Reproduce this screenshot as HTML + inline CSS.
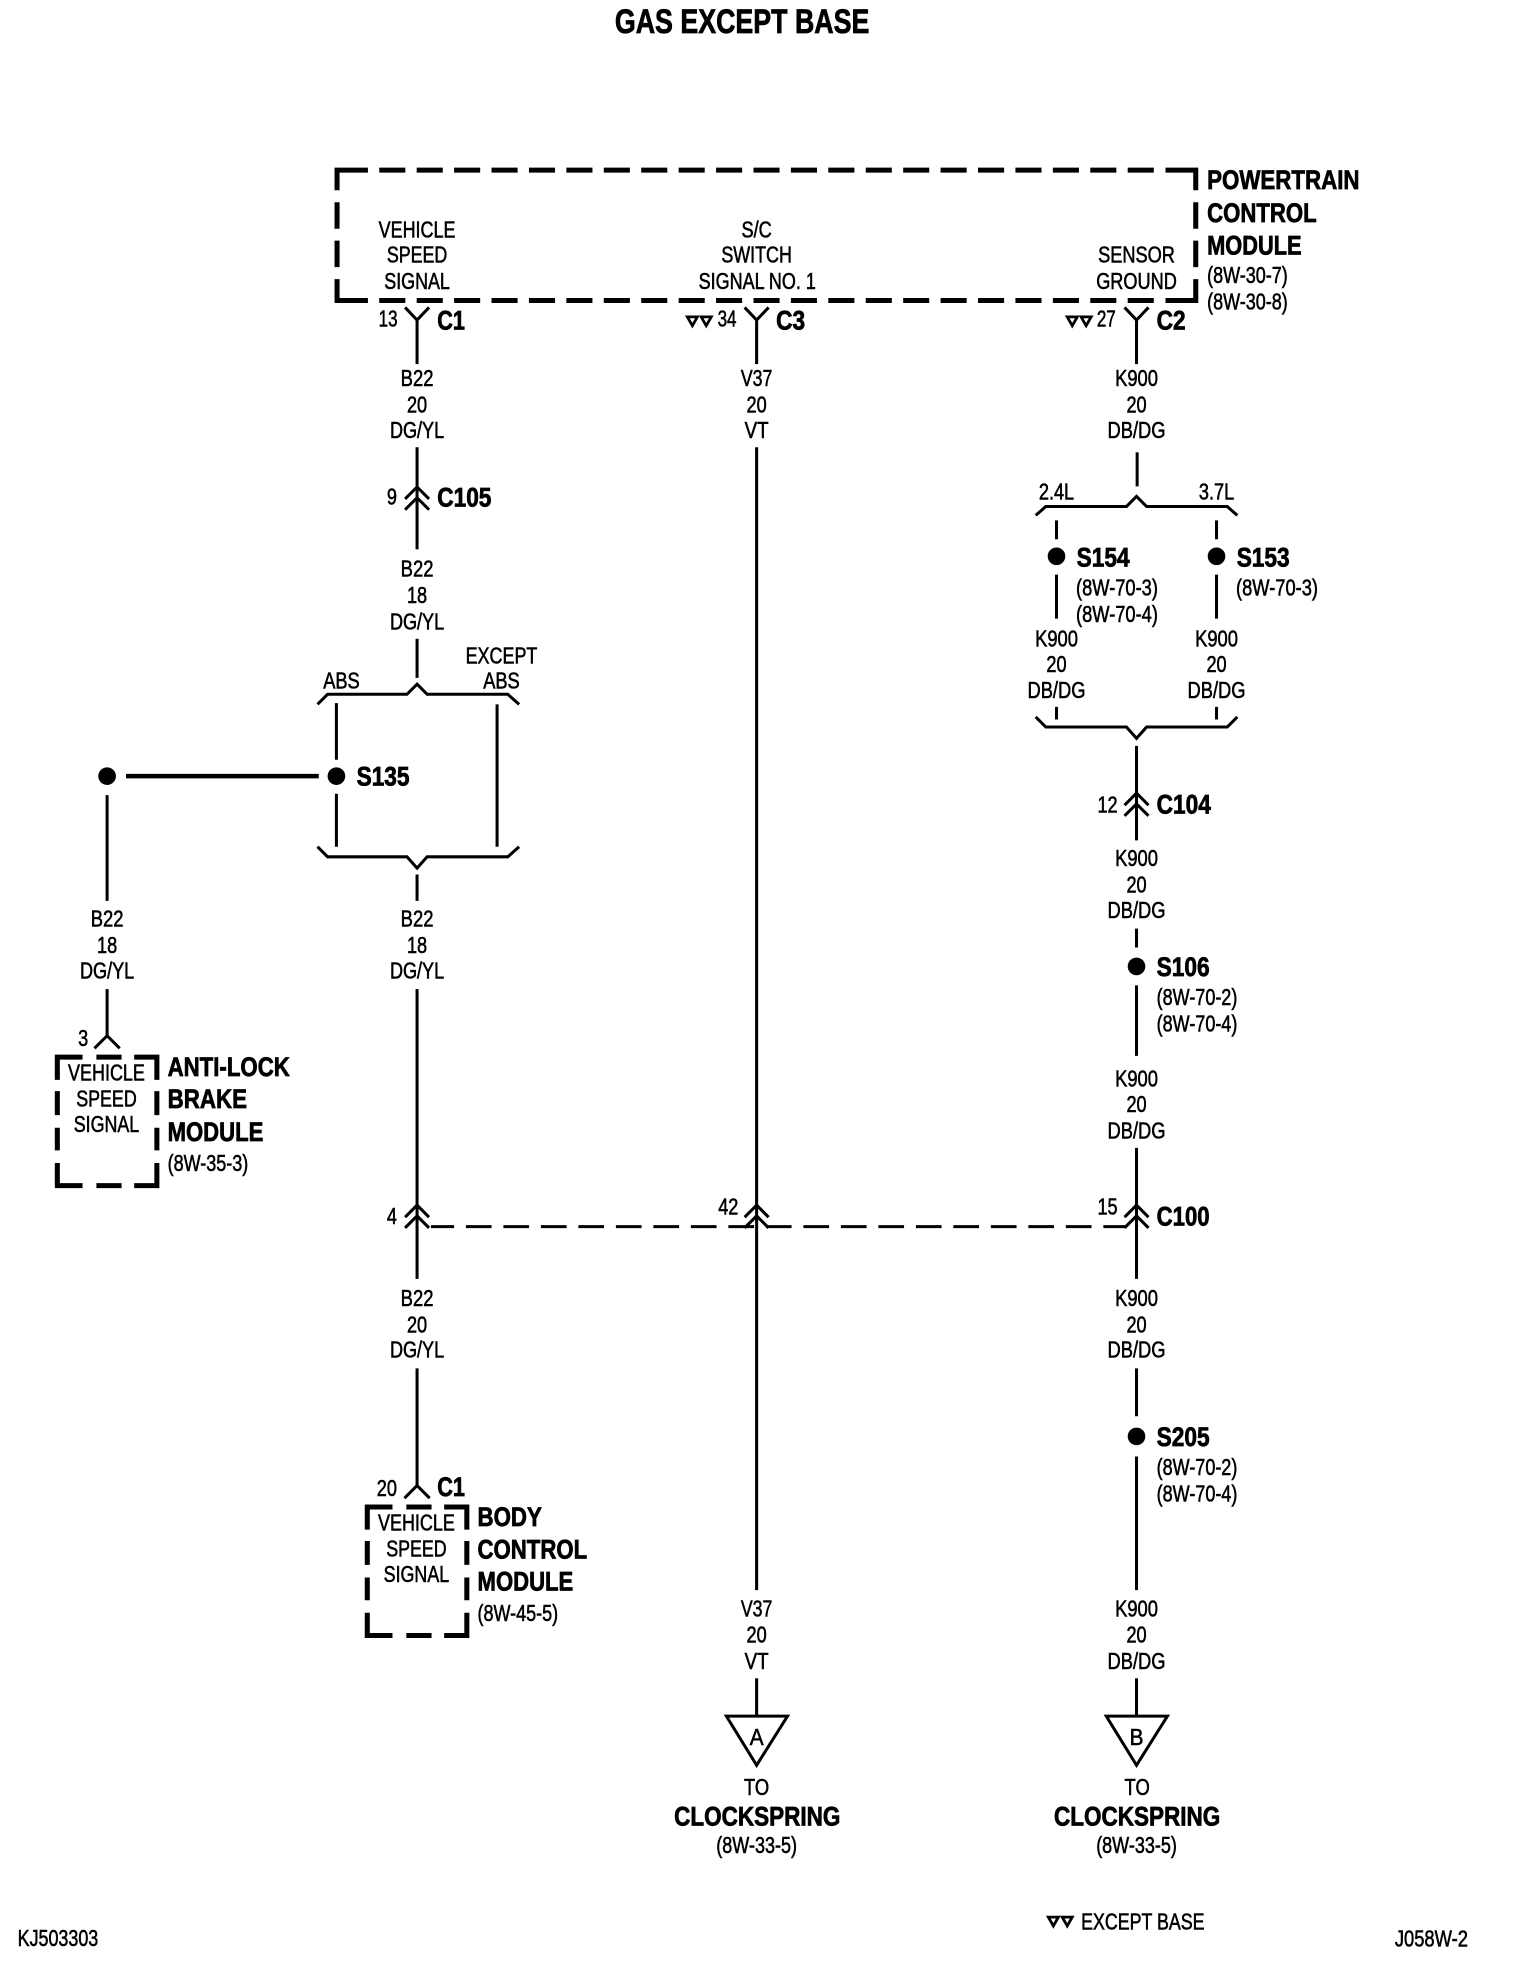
<!DOCTYPE html>
<html>
<head>
<meta charset="utf-8">
<style>
html,body{margin:0;padding:0;background:#fff;}
svg{display:block;}
text{font-family:"Liberation Sans",Arial,sans-serif;fill:#000;text-anchor:middle;font-size:18px;stroke:#000;stroke-width:.45px;}
.b{font-weight:bold;font-size:21.5px;stroke-width:.6px;}
.l{text-anchor:start;}
.w{fill:none;stroke:#000;stroke-width:2.4;}
.d{fill:none;stroke:#000;stroke-width:4;}
</style>
</head>
<body>
<svg xmlns="http://www.w3.org/2000/svg" width="1520" height="1976" viewBox="0 0 1206.35 1568.25">
<rect width="1206.35" height="1568.25" fill="#fff"/>
<defs>
<path id="chev" class="w" d="M-9.500 10L0 0.500L9.500 10M-9.500 18.500L0 9L9.500 18.500"/>
<path id="tri" fill="none" stroke="#000" stroke-width="2.2" d="M-4 -3.500H4L0 3.500Z"/>
<path id="modbox" class="d" d="M1 19V1H21M32 1H52M62 1H80V19M1 28V47M1 57V75M1 85V103H21M32 103H52M62 103H80V85M80 75V57M80 47V28"/>
</defs>

<text class="b" x="589" y="26" style="font-size:27px" textLength="202" lengthAdjust="spacingAndGlyphs">GAS EXCEPT BASE</text>

<!-- PCM box -->
<path class="d" d="M292 135H267.500V151M267.500 160.500V181.500M267.500 191V212M267.500 221.500V238.500H292"/>
<path class="d" d="M925 135H949V151M949 160.500V181.500M949 191V212M949 221.500V238.500H925"/>
<line class="d" x1="301" y1="135" x2="916" y2="135" stroke-dasharray="20.7 9"/>
<line class="d" x1="301" y1="238.500" x2="916" y2="238.500" stroke-dasharray="20.7 9"/>

<text x="331" y="188.500" textLength="61" lengthAdjust="spacingAndGlyphs">VEHICLE</text>
<text x="331" y="208.500" textLength="48" lengthAdjust="spacingAndGlyphs">SPEED</text>
<text x="331" y="229.500" textLength="52" lengthAdjust="spacingAndGlyphs">SIGNAL</text>
<text x="600.500" y="188.500" textLength="24" lengthAdjust="spacingAndGlyphs">S/C</text>
<text x="600.500" y="208.500" textLength="56" lengthAdjust="spacingAndGlyphs">SWITCH</text>
<text x="601" y="229.500" textLength="93" lengthAdjust="spacingAndGlyphs">SIGNAL NO. 1</text>
<text x="902" y="208.500" textLength="61" lengthAdjust="spacingAndGlyphs">SENSOR</text>
<text x="902" y="229.500" textLength="64" lengthAdjust="spacingAndGlyphs">GROUND</text>

<text class="b l" x="958" y="150" textLength="121" lengthAdjust="spacingAndGlyphs">POWERTRAIN</text>
<text class="b l" x="958" y="176" textLength="87" lengthAdjust="spacingAndGlyphs">CONTROL</text>
<text class="b l" x="958" y="202" textLength="75" lengthAdjust="spacingAndGlyphs">MODULE</text>
<text class="l" x="958" y="224.500" textLength="64" lengthAdjust="spacingAndGlyphs">(8W-30-7)</text>
<text class="l" x="958" y="245.500" textLength="64" lengthAdjust="spacingAndGlyphs">(8W-30-8)</text>

<!-- Y connectors at PCM -->
<path class="w" d="M321.500 244L331 254L340.500 244M331 254V289"/>
<path class="w" d="M591 244L600.500 254L610 244M600.500 254V289"/>
<path class="w" d="M892.500 244L902 254L911.500 244M902 254V289"/>
<text x="308" y="259" textLength="15" lengthAdjust="spacingAndGlyphs">13</text>
<text x="577" y="259" textLength="15" lengthAdjust="spacingAndGlyphs">34</text>
<text x="878" y="259" textLength="15" lengthAdjust="spacingAndGlyphs">27</text>
<use href="#tri" x="549.500" y="255"/><use href="#tri" x="560.500" y="255"/>
<use href="#tri" x="851" y="255"/><use href="#tri" x="862" y="255"/>
<text class="b l" x="347" y="261.500" textLength="22" lengthAdjust="spacingAndGlyphs">C1</text>
<text class="b l" x="616" y="261.500" textLength="23" lengthAdjust="spacingAndGlyphs">C3</text>
<text class="b l" x="918" y="261.500" textLength="23" lengthAdjust="spacingAndGlyphs">C2</text>

<!-- wire labels col 1 -->
<text x="331" y="306.500" textLength="26" lengthAdjust="spacingAndGlyphs">B22</text>
<text x="331" y="327.500" textLength="16" lengthAdjust="spacingAndGlyphs">20</text>
<text x="331" y="347.500" textLength="43" lengthAdjust="spacingAndGlyphs">DG/YL</text>
<path class="w" d="M331 355V436"/>
<use href="#chev" x="331" y="386"/>
<text x="311" y="400.500" textLength="8" lengthAdjust="spacingAndGlyphs">9</text>
<text class="b l" x="347" y="402" textLength="43" lengthAdjust="spacingAndGlyphs">C105</text>
<text x="331" y="457.500" textLength="26" lengthAdjust="spacingAndGlyphs">B22</text>
<text x="331" y="478.500" textLength="16" lengthAdjust="spacingAndGlyphs">18</text>
<text x="331" y="499.500" textLength="43" lengthAdjust="spacingAndGlyphs">DG/YL</text>
<path class="w" d="M331 507V538"/>

<!-- S135 brace -->
<path class="w" d="M252 559L260 551H323L331 543L339 551H403L412 559"/>
<text x="271" y="546.500" textLength="29" lengthAdjust="spacingAndGlyphs">ABS</text>
<text x="398" y="526.500" textLength="57" lengthAdjust="spacingAndGlyphs">EXCEPT</text>
<text x="398" y="546.500" textLength="29" lengthAdjust="spacingAndGlyphs">ABS</text>
<path class="w" d="M267 558V603M267 630V672M394.500 559V672"/>
<circle cx="267" cy="616" r="7"/>
<circle cx="85" cy="616" r="7"/>
<path d="M100 616H253" fill="none" stroke="#000" stroke-width="3.6"/>
<text class="b l" x="283" y="623.500" textLength="42" lengthAdjust="spacingAndGlyphs">S135</text>
<path class="w" d="M252 672L260 680H323L331 689L339 680H403L412 672"/>
<path class="w" d="M331 694V715M85 631V715"/>
<text x="85" y="735.500" textLength="26" lengthAdjust="spacingAndGlyphs">B22</text>
<text x="85" y="756.500" textLength="16" lengthAdjust="spacingAndGlyphs">18</text>
<text x="85" y="776.500" textLength="43" lengthAdjust="spacingAndGlyphs">DG/YL</text>
<text x="331" y="735.500" textLength="26" lengthAdjust="spacingAndGlyphs">B22</text>
<text x="331" y="756.500" textLength="16" lengthAdjust="spacingAndGlyphs">18</text>
<text x="331" y="776.500" textLength="43" lengthAdjust="spacingAndGlyphs">DG/YL</text>

<!-- ABS module -->
<path class="w" d="M85 785V822M75 832L85 822L95 832"/>
<text x="66" y="830" textLength="8" lengthAdjust="spacingAndGlyphs">3</text>
<use href="#modbox" x="44.500" y="838"/>
<text x="84.500" y="857.500" textLength="61" lengthAdjust="spacingAndGlyphs">VEHICLE</text>
<text x="84.500" y="878" textLength="48" lengthAdjust="spacingAndGlyphs">SPEED</text>
<text x="84.500" y="898.500" textLength="52" lengthAdjust="spacingAndGlyphs">SIGNAL</text>
<text class="b l" x="133" y="854" textLength="97" lengthAdjust="spacingAndGlyphs">ANTI-LOCK</text>
<text class="b l" x="133" y="879.500" textLength="63" lengthAdjust="spacingAndGlyphs">BRAKE</text>
<text class="b l" x="133" y="905.500" textLength="76" lengthAdjust="spacingAndGlyphs">MODULE</text>
<text class="l" x="133" y="929.500" textLength="64" lengthAdjust="spacingAndGlyphs">(8W-35-3)</text>

<!-- col 1 lower -->
<path class="w" d="M331 785V1015"/>
<use href="#chev" x="331" y="956"/>
<text x="311" y="971.500" textLength="8" lengthAdjust="spacingAndGlyphs">4</text>
<line class="w" x1="342" y1="973.500" x2="893" y2="973.500" stroke-dasharray="20.4 9.360" stroke-dashoffset="2"/>
<text x="331" y="1036.500" textLength="26" lengthAdjust="spacingAndGlyphs">B22</text>
<text x="331" y="1057.500" textLength="16" lengthAdjust="spacingAndGlyphs">20</text>
<text x="331" y="1077.500" textLength="43" lengthAdjust="spacingAndGlyphs">DG/YL</text>
<path class="w" d="M331 1086V1179M321 1189L331 1179L341 1189"/>
<text x="307" y="1187.500" textLength="16" lengthAdjust="spacingAndGlyphs">20</text>
<text class="b l" x="347" y="1187.500" textLength="22" lengthAdjust="spacingAndGlyphs">C1</text>
<use href="#modbox" x="290.500" y="1195"/>
<text x="330.500" y="1214.500" textLength="61" lengthAdjust="spacingAndGlyphs">VEHICLE</text>
<text x="330.500" y="1235.500" textLength="48" lengthAdjust="spacingAndGlyphs">SPEED</text>
<text x="330.500" y="1255.500" textLength="52" lengthAdjust="spacingAndGlyphs">SIGNAL</text>
<text class="b l" x="379" y="1211" textLength="51" lengthAdjust="spacingAndGlyphs">BODY</text>
<text class="b l" x="379" y="1237" textLength="87" lengthAdjust="spacingAndGlyphs">CONTROL</text>
<text class="b l" x="379" y="1262.500" textLength="76" lengthAdjust="spacingAndGlyphs">MODULE</text>
<text class="l" x="379" y="1286.500" textLength="64" lengthAdjust="spacingAndGlyphs">(8W-45-5)</text>

<!-- col 2 -->
<text x="600.500" y="306.500" textLength="25" lengthAdjust="spacingAndGlyphs">V37</text>
<text x="600.500" y="327.500" textLength="16" lengthAdjust="spacingAndGlyphs">20</text>
<text x="600.500" y="347.500" textLength="19" lengthAdjust="spacingAndGlyphs">VT</text>
<path class="w" d="M600.500 355V1262"/>
<use href="#chev" x="600.500" y="956"/>
<text x="578" y="964" textLength="16" lengthAdjust="spacingAndGlyphs">42</text>
<text x="600.500" y="1283" textLength="25" lengthAdjust="spacingAndGlyphs">V37</text>
<text x="600.500" y="1303.500" textLength="16" lengthAdjust="spacingAndGlyphs">20</text>
<text x="600.500" y="1324.500" textLength="19" lengthAdjust="spacingAndGlyphs">VT</text>
<path class="w" d="M600.500 1332V1362"/>
<path class="w" d="M576.500 1362H625L600.500 1401Z"/>
<text x="600.500" y="1385" textLength="11" lengthAdjust="spacingAndGlyphs">A</text>
<text x="600.500" y="1424.500" textLength="20" lengthAdjust="spacingAndGlyphs">TO</text>
<text class="b" x="601" y="1449" textLength="132" lengthAdjust="spacingAndGlyphs">CLOCKSPRING</text>
<text x="600.500" y="1470.500" textLength="64" lengthAdjust="spacingAndGlyphs">(8W-33-5)</text>

<!-- col 3 -->
<text x="902" y="306.500" textLength="34" lengthAdjust="spacingAndGlyphs">K900</text>
<text x="902" y="327.500" textLength="16" lengthAdjust="spacingAndGlyphs">20</text>
<text x="902" y="347.500" textLength="46" lengthAdjust="spacingAndGlyphs">DB/DG</text>
<path class="w" d="M902.500 359V386"/>
<path class="w" d="M822 409L830 402H894L902 394L910 402H974L982 409"/>
<text x="838.500" y="396.500" textLength="28" lengthAdjust="spacingAndGlyphs">2.4L</text>
<text x="965.500" y="396.500" textLength="28" lengthAdjust="spacingAndGlyphs">3.7L</text>
<path class="w" d="M838.500 413V428M838.500 456V491M965.500 413V428M965.500 456V491"/>
<circle cx="838.500" cy="441.500" r="7"/>
<circle cx="965.500" cy="441.500" r="7"/>
<text class="b l" x="854.500" y="449.500" textLength="42" lengthAdjust="spacingAndGlyphs">S154</text>
<text class="b l" x="981.500" y="449.500" textLength="42" lengthAdjust="spacingAndGlyphs">S153</text>
<text class="l" x="854" y="472.500" textLength="65" lengthAdjust="spacingAndGlyphs">(8W-70-3)</text>
<text class="l" x="854" y="493.500" textLength="65" lengthAdjust="spacingAndGlyphs">(8W-70-4)</text>
<text class="l" x="981" y="472.500" textLength="65" lengthAdjust="spacingAndGlyphs">(8W-70-3)</text>
<text x="838.500" y="513" textLength="34" lengthAdjust="spacingAndGlyphs">K900</text>
<text x="838.500" y="533.500" textLength="16" lengthAdjust="spacingAndGlyphs">20</text>
<text x="838.500" y="554" textLength="46" lengthAdjust="spacingAndGlyphs">DB/DG</text>
<text x="965.500" y="513" textLength="34" lengthAdjust="spacingAndGlyphs">K900</text>
<text x="965.500" y="533.500" textLength="16" lengthAdjust="spacingAndGlyphs">20</text>
<text x="965.500" y="554" textLength="46" lengthAdjust="spacingAndGlyphs">DB/DG</text>
<path class="w" d="M838.500 561V571M965.500 561V571"/>
<path class="w" d="M822 569L830 577H894L902 586L910 577H974L982 569"/>
<path class="w" d="M902 592V667"/>
<use href="#chev" x="902" y="629"/>
<text x="879" y="645" textLength="16" lengthAdjust="spacingAndGlyphs">12</text>
<text class="b l" x="918" y="645.500" textLength="43" lengthAdjust="spacingAndGlyphs">C104</text>
<text x="902" y="687.500" textLength="34" lengthAdjust="spacingAndGlyphs">K900</text>
<text x="902" y="708.500" textLength="16" lengthAdjust="spacingAndGlyphs">20</text>
<text x="902" y="728.500" textLength="46" lengthAdjust="spacingAndGlyphs">DB/DG</text>
<path class="w" d="M902 737V752M902 782V838"/>
<circle cx="902" cy="767" r="7"/>
<text class="b l" x="918" y="774.500" textLength="42" lengthAdjust="spacingAndGlyphs">S106</text>
<text class="l" x="918" y="797.500" textLength="64" lengthAdjust="spacingAndGlyphs">(8W-70-2)</text>
<text class="l" x="918" y="818.500" textLength="64" lengthAdjust="spacingAndGlyphs">(8W-70-4)</text>
<text x="902" y="862.500" textLength="34" lengthAdjust="spacingAndGlyphs">K900</text>
<text x="902" y="882.500" textLength="16" lengthAdjust="spacingAndGlyphs">20</text>
<text x="902" y="903.500" textLength="46" lengthAdjust="spacingAndGlyphs">DB/DG</text>
<path class="w" d="M902 911V1015"/>
<use href="#chev" x="902" y="956"/>
<text x="879" y="964" textLength="16" lengthAdjust="spacingAndGlyphs">15</text>
<text class="b l" x="918" y="972.500" textLength="42" lengthAdjust="spacingAndGlyphs">C100</text>
<text x="902" y="1036.500" textLength="34" lengthAdjust="spacingAndGlyphs">K900</text>
<text x="902" y="1057.500" textLength="16" lengthAdjust="spacingAndGlyphs">20</text>
<text x="902" y="1077.500" textLength="46" lengthAdjust="spacingAndGlyphs">DB/DG</text>
<path class="w" d="M902 1086V1124M902 1156V1262"/>
<circle cx="902" cy="1140" r="7"/>
<text class="b l" x="918" y="1147.500" textLength="42" lengthAdjust="spacingAndGlyphs">S205</text>
<text class="l" x="918" y="1170.500" textLength="64" lengthAdjust="spacingAndGlyphs">(8W-70-2)</text>
<text class="l" x="918" y="1191.500" textLength="64" lengthAdjust="spacingAndGlyphs">(8W-70-4)</text>
<text x="902" y="1283" textLength="34" lengthAdjust="spacingAndGlyphs">K900</text>
<text x="902" y="1303.500" textLength="16" lengthAdjust="spacingAndGlyphs">20</text>
<text x="902" y="1324.500" textLength="46" lengthAdjust="spacingAndGlyphs">DB/DG</text>
<path class="w" d="M902 1332V1362"/>
<path class="w" d="M878 1362H926.500L902 1401Z"/>
<text x="902" y="1385" textLength="11" lengthAdjust="spacingAndGlyphs">B</text>
<text x="902.500" y="1424.500" textLength="20" lengthAdjust="spacingAndGlyphs">TO</text>
<text class="b" x="902.500" y="1449" textLength="132" lengthAdjust="spacingAndGlyphs">CLOCKSPRING</text>
<text x="902" y="1470.500" textLength="64" lengthAdjust="spacingAndGlyphs">(8W-33-5)</text>

<!-- footer -->
<text class="l" x="14" y="1544.500" textLength="64" lengthAdjust="spacingAndGlyphs">KJ503303</text>
<use href="#tri" x="836" y="1525"/><use href="#tri" x="847" y="1525"/>
<text class="l" x="858" y="1531.500" textLength="98" lengthAdjust="spacingAndGlyphs">EXCEPT BASE</text>
<text class="l" x="1107" y="1545" textLength="58" lengthAdjust="spacingAndGlyphs">J058W-2</text>
</svg>
</body>
</html>
